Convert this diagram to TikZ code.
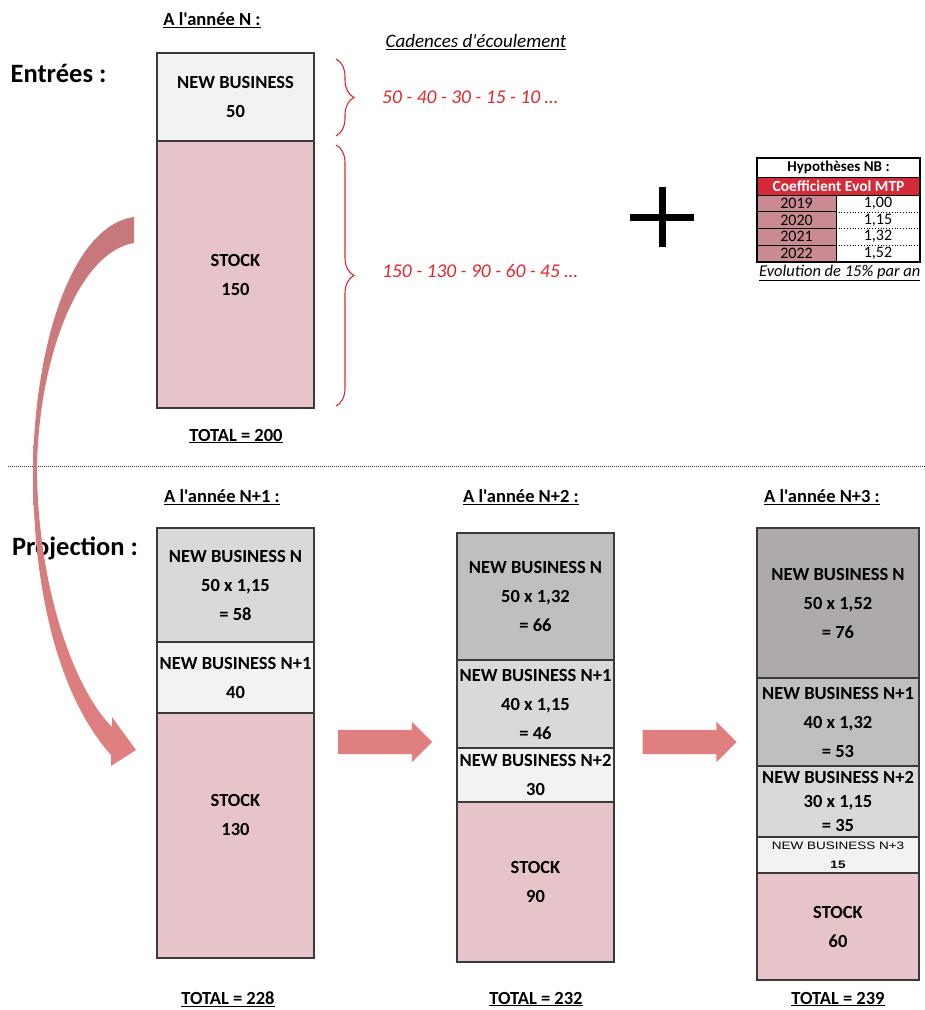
\documentclass[tikz,border=0pt]{standalone}
\usepackage{fontspec}
\usetikzlibrary{shapes.arrows,decorations.pathreplacing}
\newfontfamily\cb{Carlito}
\newfontfamily\ar{Liberation Sans}
\definecolor{gA}{HTML}{F2F2F2}
\definecolor{gB}{HTML}{D9D9D9}
\definecolor{gC}{HTML}{BFBFBF}
\definecolor{gD}{HTML}{AEAAAA}
\definecolor{stk}{HTML}{E6C4CA}
\definecolor{arr}{HTML}{E07F80}
\definecolor{arrtop}{HTML}{C6787B}
\definecolor{redt}{HTML}{E0282E}
\definecolor{redrow}{HTML}{D42A3A}
\definecolor{rose}{HTML}{C98A92}
\definecolor{bord}{HTML}{3A3A3A}
\begin{document}
\begin{tikzpicture}[x=1pt,y=-1pt,
  sec/.style={draw=bord, line width=1.2pt, inner sep=0pt, align=center,
    font=\cb\bfseries\fontsize{18.5}{29}\selectfont},
  w1/.style={minimum width=157pt},
  w3/.style={minimum width=162pt},
  head/.style={font=\cb\bfseries\fontsize{18.5}{20}\selectfont, inner sep=0pt},
  big/.style={font=\cb\bfseries\fontsize{26.5}{28}\selectfont, inner sep=0pt},
  redtxt/.style={font=\cb\itshape\fontsize{19.5}{20}\selectfont, text=redt, inner sep=0pt, anchor=west},
  bracestyle/.style={draw=redt, line width=1.1pt, decorate, decoration={brace, amplitude=18pt, aspect=0.5}},
  blockarrow/.style={single arrow, fill=arr, draw=none, minimum height=94pt,
    inner xsep=0pt, inner ysep=12pt, single arrow head extend=8pt, shape border rotate=0},
  tcell/.style={inner sep=0pt, font=\cb\fontsize{16}{16}\selectfont},
]
\useasboundingbox (0,0) rectangle (925,1010);

% ---------- Entrées ----------
\node[big] (entrees) at (58.5,73) {Entrées :};
\node[head] (hN) at (212,20) {\underline{A l'année N :}};
\node[sec,w1,fill=gA,minimum height=88pt] (nb) at (235.5,97) {NEW BUSINESS\\50};
\node[sec,w1,fill=stk,minimum height=267pt] (stock) at (235.5,274.5) {STOCK\\150};
\node[head] (tot0) at (236,436) {\underline{TOTAL = 200}};

\node[font=\cb\itshape\fontsize{19}{20}\selectfont, inner sep=0pt] (cad) at (476,42) {\underline{Cadences d'écoulement}};
\coordinate (b1a) at (336,59);
\coordinate (b1b) at (336,136);
\coordinate (b2a) at (336,145);
\coordinate (b2b) at (336,406);
\draw[bracestyle] (b1a) -- (b1b);
\draw[bracestyle] (b2a) -- (b2b);
\node[redtxt] (cad1) at (382,97) {50 - 40 - 30 - 15 - 10 …};
\node[redtxt] (cad2) at (382,271) {150 - 130 - 90 - 60 - 45 …};

% plus
\coordinate (pl) at (662,217);
\draw[line width=7pt] ([xshift=-32pt]pl) -- ([xshift=32pt]pl);
\draw[line width=7pt] ([yshift=-30pt]pl) -- ([yshift=30pt]pl);

% hypotheses table
\node[tcell,draw=black,line width=1pt,fill=white,minimum width=163pt,minimum height=19pt,font=\cb\bfseries\fontsize{15}{16}\selectfont] (th) at (838.5,167.5) {Hypothèses NB :};
\node[tcell,draw=black,line width=1pt,fill=redrow,text=white,minimum width=163pt,minimum height=18pt,font=\cb\bfseries\fontsize{15.5}{16}\selectfont] (tr) at (838.5,186) {Coefficient Evol MTP};
\foreach \y/\h/\yr/\v [count=\i] in {203.5/17/2019/{1,00},220/16.5/2020/{1,15},236.75/16.5/2021/{1,32},253.5/17/2022/{1,52}}{
  \node[tcell,draw=black,line width=0.8pt,fill=rose,minimum width=79pt,minimum height=\h pt] (ty\i) at (796.5,\y) {\yr};
  \node[tcell,minimum width=84pt,minimum height=\h pt] (tv\i) at (878,\y) {\v};
}
\foreach \i in {1,2,3}{
  \draw[dotted, line width=0.8pt] (tv\i.south west) -- (tv\i.south east);
}
\draw[line width=1.6pt] (th.north west) rectangle (838.5+81.5,262);
\draw[line width=0.8pt] (836,195) -- (836,262);
\node[font=\cb\itshape\fontsize{16.5}{17}\selectfont, inner sep=0pt, anchor=west] (evo) at (759,273) {\underline{Evolution de 15\% par an}};

% separator
\coordinate (s1) at (8,466);
\coordinate (s2) at (925,466);
\draw[line width=0.8pt, dash pattern=on 1pt off 1pt, black!80] (s1) -- (s2);

% ---------- Projection ----------
\node[big] (proj) at (75,548) {Projection :};

% column N+1
\node[head] (h1) at (222,497) {\underline{A l'année N+1 :}};
\node[sec,w1,fill=gB,minimum height=114pt] (c1a) at (235.5,585) {NEW BUSINESS N\\50 x 1,15\\= 58};
\node[sec,w1,fill=gA,minimum height=71pt] (c1b) at (235.5,677.5) {NEW BUSINESS N+1\\40};
\node[sec,w1,fill=stk,minimum height=245pt] (c1c) at (235.5,835.5) {STOCK\\130\\[12pt]};
\node[head] (tot1) at (228,999) {\underline{TOTAL = 228}};

% column N+2
\node[head] (h2) at (521,497) {\underline{A l'année N+2 :}};
\node[sec,w1,fill=gC,minimum height=127pt] (c2a) at (535.5,596.5) {NEW BUSINESS N\\50 x 1,32\\= 66};
\node[sec,w1,fill=gB,minimum height=88pt] (c2b) at (535.5,704) {NEW BUSINESS N+1\\40 x 1,15\\= 46};
\node[sec,w1,fill=gA,minimum height=54pt] (c2c) at (535.5,775) {NEW BUSINESS N+2\\30};
\node[sec,w1,fill=stk,minimum height=160pt] (c2d) at (535.5,882) {STOCK\\90};
\node[head] (tot2) at (536,999) {\underline{TOTAL = 232}};

% column N+3
\node[head] (h3) at (822,497) {\underline{A l'année N+3 :}};
\node[sec,w3,fill=gD,minimum height=150pt] (c3a) at (838,603) {NEW BUSINESS N\\50 x 1,52\\= 76};
\node[sec,w3,fill=gC,minimum height=88pt] (c3b) at (838,722) {NEW BUSINESS N+1\\40 x 1,32\\= 53};
\node[sec,w3,fill=gB,minimum height=71pt,font=\cb\bfseries\fontsize{18.5}{24}\selectfont] (c3c) at (838,801.5) {NEW BUSINESS N+2\\30 x 1,15\\= 35};
\node[sec,w3,fill=gA,minimum height=36pt,font=\ar\fontsize{13.5}{19}\selectfont] (c3d) at (838,855) {\scalebox{1}[0.8]{NEW BUSINESS N+3}\\\scalebox{1}[0.8]{\textbf{15}}};
\node[sec,w3,fill=stk,minimum height=107pt] (c3e) at (838,926.5) {STOCK\\60};
\node[head] (tot3) at (838,999) {\underline{TOTAL = 239}};

% block arrows
\node[blockarrow] (ar1) at (379,742) {};
\node[blockarrow] (ar2) at (683.5,742) {};

% curved arrow from N stock to N+1 stock
\shade[top color=arrtop, bottom color=arr, draw=none]
  (134,217) .. controls (70,226) and (34,350) .. (33,470)
  .. controls (33,600) and (62,700) .. (111,755)
  -- (111,766) -- (136,750) -- (112,717) -- (112,727)
  .. controls (75,690) and (38,590) .. (37,470)
  .. controls (38,360) and (78,252) .. (134,243) -- cycle;
\end{tikzpicture}
\end{document}
